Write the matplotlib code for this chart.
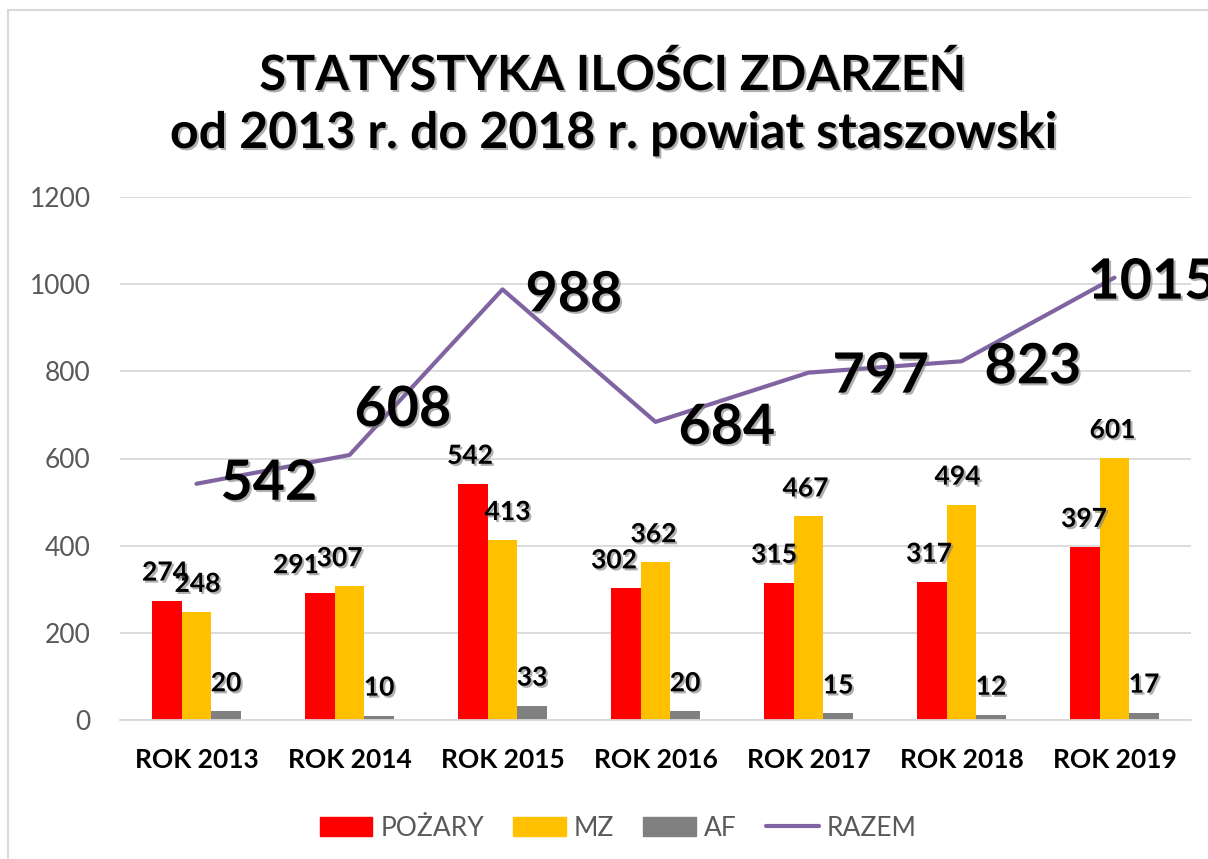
import numpy as np
from matplotlib import pyplot as plt
from matplotlib import patheffects as pe
from matplotlib.lines import Line2D
from matplotlib.patches import Patch, Rectangle

# data
years = ['ROK 2013', 'ROK 2014', 'ROK 2015', 'ROK 2016', 'ROK 2017', 'ROK 2018', 'ROK 2019']
pozary = [274, 291, 542, 302, 315, 317, 397]
mz = [248, 307, 413, 362, 467, 494, 601]
af = [20, 10, 33, 20, 15, 12, 17]
razem = [542, 608, 988, 684, 797, 823, 1015]
y_ticks = [0, 200, 400, 600, 800, 1000, 1200]
series_names = ['POŻARY', 'MZ', 'AF', 'RAZEM']
title_lines = ['STATYSTYKA ILOŚCI ZDARZEŃ', 'od 2013 r. do 2018 r. powiat staszowski']

# excel-like colours
red = '#FF0000'
yellow = '#FFC000'
grey = '#808080'
purple = '#8064A2'
text_grey = '#595959'
grid_grey = '#D9D9D9'

PX = 0.72  # points per pixel at dpi 100


def main():
    plt.rcParams['font.family'] = ['Lato', 'DejaVu Sans']

    fig = plt.figure(figsize=(12.08, 8.59), dpi=100)
    ax = fig.add_axes([120 / 1208, 1 - 720 / 859, (1191 - 120) / 1208, (720 - 197) / 859])

    # outer chart frame (right and bottom edges are cut off in the original)
    fig.patches.append(Rectangle((8 / 1208, -0.1), 1.2, 1.1 - 10 / 859, transform=fig.transFigure,
                                 fill=False, edgecolor=grid_grey, linewidth=1.5))

    shadow = [pe.withSimplePatchShadow(offset=(1.5, -1.5), shadow_rgbFace='#7a7a7a', alpha=0.6)]

    x = np.arange(len(years))
    w = 0.193
    ax.bar(x - w, pozary, w, color=red, zorder=2)
    ax.bar(x, mz, w, color=yellow, zorder=2)
    ax.bar(x + w, af, w, color=grey, zorder=2)
    ax.plot(x, razem, color=purple, linewidth=3, solid_capstyle='round', zorder=3)

    # bar value labels (small manual shifts like in the original)
    poz_dx = [-2, -24, -3, -12, -5, -3, -1]
    mz_dx = [1, -10, 5, -2, -3, -4, -2]
    af_dx = [0, 0, 0, 0, 0, 0, 0]
    for offset, values, dxs in [(-w, pozary, poz_dx), (0, mz, mz_dx), (w, af, af_dx)]:
        for xi, v, dx in zip(x, values, dxs):
            ax.annotate(str(v), (xi + offset, v), xytext=(dx * PX, 20 * PX), textcoords='offset points',
                        ha='center', va='baseline', fontsize=19, fontweight='bold', color='black',
                        path_effects=shadow, zorder=5)

    # big labels of the total line
    line_off = [(24, 0), (5, 45), (23, -6), (23, -6), (24, -4), (23, -6), (-27, -5)]
    for xi, v, (dx, dy) in zip(x, razem, line_off):
        ax.annotate(str(v), (xi, v), xytext=(dx * PX, dy * PX), textcoords='offset points',
                    ha='left', va='center', fontsize=40, fontweight='bold', color='black',
                    path_effects=shadow, zorder=6, annotation_clip=False)

    # axes formatting
    ax.set_xlim(-0.5, len(years) - 0.5)
    ax.set_ylim(0, 1200)
    ax.set_yticks(y_ticks)
    ax.set_xticks(x)
    ax.set_xticklabels(years, fontweight='bold')
    ax.yaxis.grid(True, color=grid_grey, linewidth=1.3, zorder=0)
    ax.set_axisbelow(True)
    for side in ['left', 'right', 'top']:
        ax.spines[side].set_visible(False)
    ax.spines['bottom'].set_color(grid_grey)
    ax.spines['bottom'].set_linewidth(1.3)
    ax.tick_params(axis='y', length=0, pad=21, labelsize=19, labelcolor=text_grey)
    ax.tick_params(axis='x', length=0, pad=20, labelsize=19, labelcolor='black')

    # title
    fig.text(613 / 1208, 1 - 90 / 859, title_lines[0], ha='center', va='baseline', fontsize=35,
             fontweight='bold', path_effects=shadow)
    fig.text(613 / 1208, 1 - 148 / 859, title_lines[1], ha='center', va='baseline', fontsize=36,
             fontweight='bold', path_effects=shadow)

    # legend
    handles = [Patch(color=red), Patch(color=yellow), Patch(color=grey),
               Line2D([0], [0], color=purple, linewidth=3, solid_capstyle='round')]
    leg = fig.legend(handles, series_names, loc='center', bbox_to_anchor=(618 / 1208, 1 - 828 / 859),
                     ncol=4, frameon=False, fontsize=19, handlelength=2.0, handletextpad=0.3,
                     columnspacing=1.1)
    for t in leg.get_texts():
        t.set_color(text_grey)

    fig.savefig('out.png', dpi=100)


if __name__ == '__main__':
    main()
